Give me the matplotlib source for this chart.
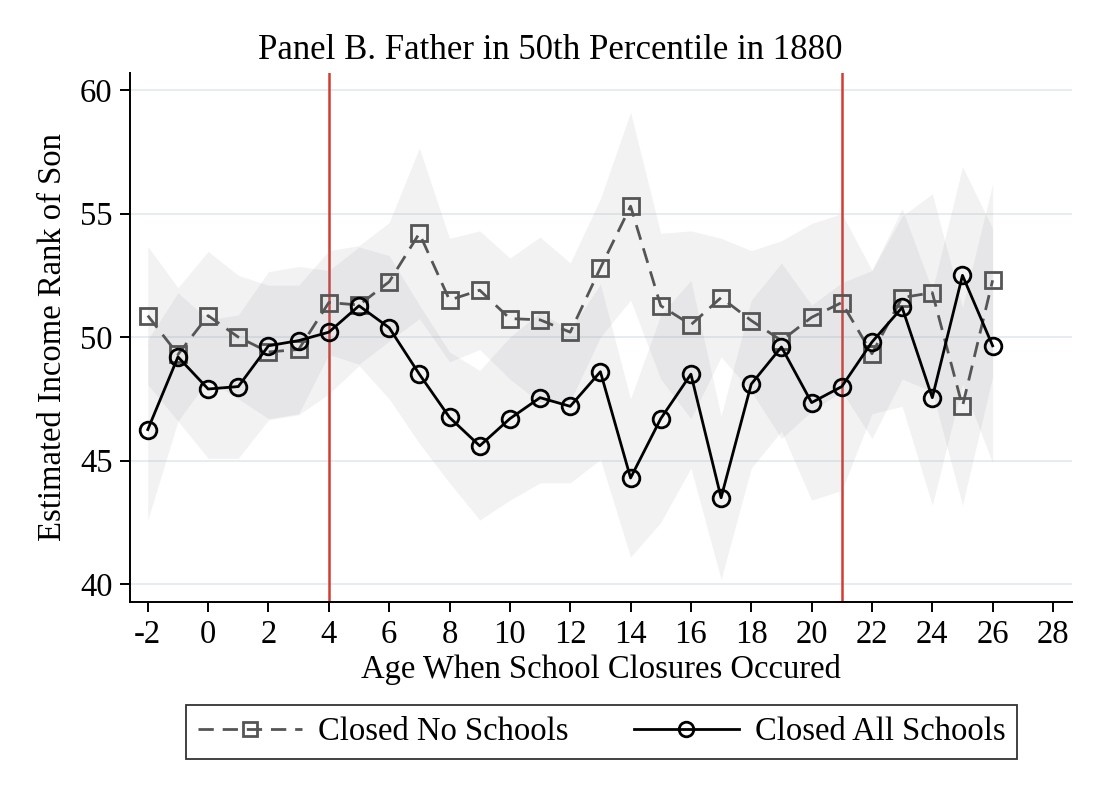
import matplotlib
matplotlib.use("Agg")
import matplotlib.pyplot as plt
from matplotlib.lines import Line2D

plt.rcParams['font.family'] = ['Liberation Serif', 'DejaVu Serif']

# ---- data ----
ages = [-2, -1, 0, 1, 2, 3, 4, 5, 6, 7, 8, 9, 10, 11, 12, 13, 14, 15, 16, 17,
        18, 19, 20, 21, 22, 23, 24, 25, 26]

no_schools = [50.87, 49.3, 50.87, 50.0, 49.4, 49.5, 51.4, 51.3, 52.24, 54.2,
              51.5, 51.9, 50.75, 50.7, 50.2, 52.8, 55.3, 51.27, 50.5, 51.6,
              50.67, 49.86, 50.8, 51.4, 49.33, 51.6, 51.8, 47.2, 52.3]
no_lo = [48.07, 46.6, 48.27, 47.5, 46.7, 46.9, 49.3, 48.9, 49.84, 50.75,
         49.0, 49.5, 48.3, 47.35, 47.4, 50.0, 51.5, 48.3, 46.7, 49.2,
         47.8, 45.9, 47.0, 47.8, 45.9, 48.3, 47.8, 43.2, 48.4]
no_hi = [53.67, 52.0, 53.47, 52.5, 52.1, 52.1, 53.5, 53.7, 54.64, 57.65,
         54.0, 54.3, 53.2, 54.05, 53.0, 55.6, 59.1, 54.2, 54.3, 54.0,
         53.5, 53.9, 54.6, 55.0, 52.7, 54.9, 55.8, 51.2, 56.2]

all_schools = [46.26, 49.2, 47.9, 48.0, 49.65, 49.86, 50.2, 51.27, 50.38, 48.5,
               46.75, 45.6, 46.7, 47.55, 47.2, 48.6, 44.3, 46.7, 48.5, 43.5,
               48.1, 49.6, 47.35, 48.0, 49.8, 51.2, 47.55, 52.5, 49.65]
all_lo = [42.6, 46.6, 45.1, 45.1, 46.65, 46.86, 47.7, 48.85, 47.5, 45.7,
          44.1, 42.6, 43.4, 44.1, 44.1, 45.05, 41.1, 42.5, 44.7, 40.2,
          44.7, 46.2, 43.4, 43.8, 46.9, 47.2, 43.2, 48.1, 44.9]
all_hi = [49.9, 51.8, 50.7, 50.9, 52.65, 52.86, 52.7, 53.65, 53.3, 51.3,
          49.4, 48.65, 50.0, 51.0, 50.3, 52.15, 47.5, 50.9, 52.3, 46.8,
          51.5, 53.0, 51.3, 52.2, 52.7, 55.2, 51.9, 56.9, 54.4]

closure_lines = [4, 21]
x_ticks = list(range(-2, 29, 2))
y_ticks = [40, 45, 50, 55, 60]

title = "Panel B. Father in 50th Percentile in 1880"
xlabel = "Age When School Closures Occured"
ylabel = "Estimated Income Rank of Son"
labels = ["Closed No Schools", "Closed All Schools"]

# ---- figure ----
W, H = 1100, 799
fig = plt.figure(figsize=(W / 100, H / 100), dpi=100)
ax = fig.add_axes([130 / W, 1 - 602 / H, 942 / W, 529 / H])

ax.set_xlim(-2.59, 28.63)
ax.set_ylim(39.28, 60.69)

for yv in y_ticks:
    ax.axhline(yv, color='#e6edf0', lw=1.4, zorder=0)

for xv in closure_lines:
    ax.axvline(xv, color='#d23c32', lw=1.8, zorder=1)

band_color = '#8c8c94'
ax.fill_between(ages, no_lo, no_hi, color=band_color, alpha=0.11, lw=0, zorder=2)
ax.fill_between(ages, all_lo, all_hi, color=band_color, alpha=0.11, lw=0, zorder=2)

gray = '#555555'
ax.plot(ages, no_schools, color=gray, lw=2.0, linestyle=(0, (5.5, 3.2)),
        marker='s', markersize=11.5, markerfacecolor='none',
        markeredgecolor=gray, markeredgewidth=2.0, zorder=3)
ax.plot(ages, all_schools, color='black', lw=2.0, linestyle='-',
        marker='o', markersize=12, markerfacecolor='none',
        markeredgecolor='black', markeredgewidth=2.0, zorder=4)

for s in ['top', 'right']:
    ax.spines[s].set_visible(False)
for s in ['left', 'bottom']:
    ax.spines[s].set_linewidth(1.4)

ax.set_xticks(x_ticks)
ax.set_yticks(y_ticks)
ax.tick_params(axis='both', direction='out', length=7.5, width=1.4,
               labelsize=23.5, pad=5)
ax.set_xticklabels([str(v) for v in x_ticks])

# title centred on the whole figure, as in the reference
ax.set_title(title, fontsize=25, pad=10, x=(W / 2 - 130) / 942)
ax.set_xlabel(xlabel, fontsize=23.5, labelpad=3)
ax.set_ylabel(ylabel, fontsize=23.5, labelpad=9)

handles = [
    Line2D([], [], color=gray, lw=2.0, linestyle=(0, (5.5, 3.2)), marker='s',
           markersize=10.5, markerfacecolor='none', markeredgecolor=gray,
           markeredgewidth=2.0),
    Line2D([], [], color='black', lw=2.0, linestyle='-', marker='o',
           markersize=10.5, markerfacecolor='none', markeredgecolor='black',
           markeredgewidth=2.0),
]
leg = fig.legend(handles, labels, loc='center',
                 bbox_to_anchor=((182 + 1021) / 2 / W, 1 - 732 / H),
                 ncol=2, fontsize=23.5, frameon=True, fancybox=False,
                 edgecolor='black', handlelength=3.2, handletextpad=0.5,
                 columnspacing=2.0, borderpad=0.35)
leg.get_frame().set_linewidth(1.3)

fig.savefig('out.png', dpi=100)
